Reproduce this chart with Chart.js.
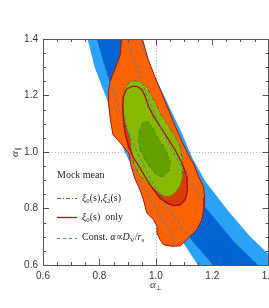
<!DOCTYPE html>
<html><head><meta charset="utf-8">
<script src="https://cdn.jsdelivr.net/npm/chart.js@4"></script>
<style>
html,body{margin:0;padding:0;overflow:hidden;background:#fff;width:269px;height:308px}
#wrap{position:absolute;left:0;top:0;width:300px;height:308px}
</style>
</head><body><div id="wrap"><canvas id="c" width="300" height="308"></canvas></div>
<script>
// ---- axis ticks ----
const xTicks = [0.6, 0.8, 1.0, 1.2, 1.4];
const yTicks = [0.6, 0.8, 1.0, 1.2, 1.4];

// ---- constant-alpha band, 2 sigma (light blue) ----
const bandOuterX = [0.750,0.758,0.783,0.827,0.851,0.890,0.941,0.998,1.067,1.097,1.149,1.165,1.450,1.450,1.406,1.334,1.253,1.176,1.129,1.092,1.030,0.981,0.943,0.935];
const bandOuterY = [1.430,1.400,1.300,1.185,1.100,1.000,0.900,0.800,0.700,0.679,0.600,0.580,0.580,0.594,0.632,0.701,0.796,0.896,0.980,1.067,1.197,1.300,1.400,1.430];
// ---- constant-alpha band, 1 sigma (dark blue) ----
const bandInnerX = [0.783,0.791,0.819,0.852,0.890,0.933,0.984,1.043,1.116,1.203,1.215,1.385,1.362,1.279,1.179,1.111,1.054,1.005,0.963,0.925,0.891,0.883];
const bandInnerY = [1.430,1.400,1.300,1.200,1.100,1.000,0.900,0.800,0.700,0.600,0.580,0.580,0.600,0.680,0.800,0.900,1.000,1.100,1.200,1.300,1.400,1.430];

// ---- xi0 only, 2 sigma (orange) ----
const xi0OuterX = [0.881,0.944,0.973,0.998,1.033,1.062,1.092,1.107,1.121,1.133,1.151,1.169,1.173,1.171,1.163,1.145,1.121,1.104,1.086,1.057,1.027,1.015,1.004,1.004,0.992,0.968,0.956,0.944,0.926,0.912,0.905,0.876,0.848,0.838,0.832,0.832,0.838,0.856,0.874];
const xi0OuterY = [1.430,1.430,1.327,1.263,1.179,1.107,1.038,1.008,0.979,0.961,0.914,0.878,0.838,0.807,0.760,0.725,0.701,0.684,0.668,0.666,0.672,0.690,0.713,0.737,0.760,0.784,0.831,0.865,0.905,0.950,0.995,1.030,1.061,1.120,1.179,1.215,1.250,1.297,1.344];
// ---- xi0 only, 1 sigma (dark orange, red contour) ----
const xi0InnerX = [0.915,0.933,0.950,0.962,0.974,0.992,1.015,1.045,1.068,1.092,1.110,1.112,1.104,1.086,1.062,1.039,1.015,0.992,0.968,0.944,0.921,0.903,0.891,0.885,0.883,0.885,0.897];
const xi0InnerY = [1.232,1.232,1.221,1.197,1.161,1.126,1.091,1.044,1.008,0.961,0.914,0.867,0.831,0.813,0.810,0.820,0.837,0.867,0.902,0.943,0.979,1.020,1.067,1.114,1.161,1.197,1.223];
// ---- xi0 + xi2, 2 sigma (light green) ----
const xi02OuterX = [0.921,0.944,0.968,0.992,1.015,1.045,1.068,1.086,1.092,1.096,1.092,1.074,1.051,1.027,1.004,0.968,0.938,0.921,0.915,0.909,0.895,0.885,0.883,0.891,0.903];
const xi02OuterY = [1.252,1.250,1.227,1.185,1.138,1.091,1.055,1.020,0.984,0.937,0.896,0.861,0.843,0.843,0.861,0.890,0.926,0.961,0.997,1.044,1.091,1.138,1.185,1.221,1.244];
// ---- xi0 + xi2, 1 sigma (dark green) ----
const xi02InnerX = [0.968,0.986,1.004,1.027,1.045,1.051,1.045,1.027,1.009,0.986,0.962,0.944,0.938,0.944,0.956];
const xi02InnerY = [1.108,1.091,1.055,1.020,0.984,0.961,0.931,0.914,0.914,0.937,0.973,1.008,1.044,1.085,1.105];

// ---- constant-alpha contours (dashed) ----
const constA1X = [0.902,0.941,0.998,1.057,1.062];
const constA1Y = [0.980,0.900,0.800,0.713,0.668];
const constA2X = [0.818,0.852,0.890,0.933,0.984,1.043,1.116,1.122];
const constA2Y = [1.310,1.200,1.100,1.000,0.900,0.800,0.700,0.695];
const constA3X = [0.889,0.896,0.932,0.968,1.011,1.061,1.118,1.171];
const constA3Y = [1.430,1.400,1.300,1.200,1.100,1.000,0.900,0.820];
const constA4X = [0.935,0.945,0.968];
const constA4Y = [1.430,1.400,1.330];

const legendLabels = ['Mock mean', 'ξ0(s),ξ2(s)', 'ξ0(s) only', 'Const. α∝DV/rs'];

const COL = {
  lightBlue:'#2aa2f8', darkBlue:'#0064d2', orange:'#fa6400', darkOrange:'#dc3a00',
  lightGreen:'#88b800', darkGreen:'#64a000', red:'#a8140c', green:'#3f8200', dash:'#4a7ad4'
};

function pts(xs, ys, close) {
  const p = xs.map((x, i) => ({x: x, y: ys[i]}));
  if (close) p.push({x: xs[0], y: ys[0]});
  return p;
}
function poly(xs, ys, bg, border, width, dash, order) {
  return {data: pts(xs, ys, true), showLine: true, fill: 'shape', backgroundColor: bg,
    borderColor: border || bg, borderWidth: width || 0, borderDash: dash || [],
    pointRadius: 0, tension: 0, order: order};
}
function curve(xs, ys, color, width, dash, order) {
  return {data: pts(xs, ys, false), showLine: true, fill: false, backgroundColor: color,
    borderColor: color, borderWidth: width, borderDash: dash || [], pointRadius: 0, tension: 0, order: order};
}

const datasets = [
  poly(bandOuterX, bandOuterY, COL.lightBlue, null, 0, null, 20),
  poly(bandInnerX, bandInnerY, COL.darkBlue, null, 0, null, 19),
  poly(xi0OuterX, xi0OuterY, COL.orange, COL.red, 1, null, 18),
  poly(xi0InnerX, xi0InnerY, COL.darkOrange, COL.red, 1.2, null, 17),
  poly(xi02OuterX, xi02OuterY, COL.lightGreen, COL.green, 1, [4,2,1,2], 16),
  poly(xi02InnerX, xi02InnerY, COL.darkGreen, COL.green, 1, [4,2,1,2], 15),
  curve(xi0InnerX.concat([xi0InnerX[0]]), xi0InnerY.concat([xi0InnerY[0]]), COL.red, 1.3, null, 14),
  curve(constA1X, constA1Y, COL.dash, 1, [3,3], 13),
  curve(constA2X, constA2Y, COL.dash, 1, [3,3], 12),
  curve(constA3X, constA3Y, COL.dash, 1, [3,3], 11),
  curve(constA4X, constA4Y, COL.dash, 1, [3,3], 10)
];

function rich(ctx, parts, x, y, size) {
  let cx = x;
  for (const p of parts) {
    const fs = p.sub ? size * 0.68 : size;
    ctx.font = (p.it ? 'italic ' : '') + fs + 'px "Liberation Serif", serif';
    ctx.fillText(p.t, cx, y + (p.sub ? size * 0.28 : 0));
    cx += ctx.measureText(p.t).width;
  }
  return cx - x;
}

const deco = {
  id: 'deco',
  beforeDatasetsDraw(chart) {
    const {ctx, chartArea: a, scales: {x, y}} = chart;
    ctx.save();
    ctx.strokeStyle = '#b0b0b0'; ctx.lineWidth = 1; ctx.setLineDash([1, 2]);
    ctx.beginPath();
    const px = Math.round(x.getPixelForValue(1.0)) + 0.5;
    const py = Math.round(y.getPixelForValue(1.0)) + 0.5;
    ctx.moveTo(px, a.top); ctx.lineTo(px, a.bottom);
    ctx.moveTo(a.left, py); ctx.lineTo(a.right, py);
    ctx.stroke();
    ctx.restore();
  },
  afterDatasetsDraw(chart) {
    const {ctx, chartArea: a, scales: {x, y}} = chart;
    ctx.save();
    // ticks
    ctx.strokeStyle = '#555'; ctx.lineWidth = 1; ctx.setLineDash([]);
    ctx.beginPath();
    for (let i = 0; i <= 16; i++) {
      const v = 0.6 + i * 0.05;
      const len = (i % 4 === 0) ? 6 : 3;
      const px = Math.round(x.getPixelForValue(v)) + 0.5;
      const py = Math.round(y.getPixelForValue(v)) + 0.5;
      ctx.moveTo(px, a.bottom); ctx.lineTo(px, a.bottom - len);
      ctx.moveTo(px, a.top); ctx.lineTo(px, a.top + len);
      ctx.moveTo(a.left, py); ctx.lineTo(a.left + len, py);
      ctx.moveTo(a.right, py); ctx.lineTo(a.right - len, py);
    }
    ctx.stroke();
    ctx.strokeStyle = '#555';
    ctx.strokeRect(Math.round(a.left) + 0.5, Math.round(a.top) + 0.5, Math.round(a.right - a.left) - 1, Math.round(a.bottom - a.top));
    // legend
    const lx = a.left + 14, tx = a.left + 39, size = 10;
    ctx.fillStyle = '#222'; ctx.textBaseline = 'middle'; ctx.textAlign = 'left';
    rich(ctx, [{t: legendLabels[0]}], lx, 175, size);
    const rows = [
      {y: 198, color: COL.green, dash: [4,2,1,2], w: 1,
       parts: [{t:'ξ', it:1},{t:'0', sub:1},{t:'(s),'},{t:'ξ', it:1},{t:'2', sub:1},{t:'(s)'}]},
      {y: 217, color: COL.red, dash: [], w: 1.3,
       parts: [{t:'ξ', it:1},{t:'0', sub:1},{t:'(s)  only'}]},
      {y: 237.5, color: COL.dash, dash: [3,3], w: 1,
       parts: [{t:'Const. '},{t:'α', it:1},{t:'∝'},{t:'D', it:1},{t:'V', sub:1},{t:'/'},{t:'r', it:1},{t:'s', sub:1}]}
    ];
    for (const r of rows) {
      ctx.strokeStyle = r.color; ctx.lineWidth = r.w; ctx.setLineDash(r.dash);
      ctx.beginPath(); ctx.moveTo(lx, Math.round(r.y) + 0.5); ctx.lineTo(lx + 20, Math.round(r.y) + 0.5); ctx.stroke();
      ctx.setLineDash([]);
      rich(ctx, r.parts, tx, r.y, size);
    }
    // axis titles
    ctx.fillStyle = '#333';
    const cxT = (a.left + a.right) / 2;
    ctx.font = 'italic 11px "Liberation Serif", serif';
    const w1 = ctx.measureText('α').width;
    ctx.font = '7px "DejaVu Sans", sans-serif';
    const w2 = ctx.measureText('⊥').width;
    const sx = cxT - (w1 + w2) / 2;
    rich(ctx, [{t:'α', it:1}], sx, 285, 11);
    ctx.font = '7px "DejaVu Sans", sans-serif';
    ctx.fillText('⊥', sx + w1, 288);
    ctx.translate(15, (a.top + a.bottom) / 2);
    ctx.rotate(-Math.PI / 2);
    ctx.font = 'italic 11px "Liberation Serif", serif';
    ctx.fillText('α', -5, 0);
    ctx.font = '7px "DejaVu Sans", sans-serif';
    ctx.fillText('∥', 1, 3);
    ctx.restore();
  }
};

new Chart(document.getElementById('c'), {
  type: 'scatter',
  data: {datasets: datasets},
  options: {
    responsive: false, animation: false, devicePixelRatio: 1,
    layout: {padding: {left: 0, top: 39, right: 31.3, bottom: 0}},
    plugins: {legend: {display: false}, tooltip: {enabled: false}},
    scales: {
      x: {type: 'linear', min: 0.6, max: 1.4,
          afterBuildTicks: s => { s.ticks = xTicks.map(v => ({value: v})); },
          ticks: {callback: v => v.toFixed(1), color: '#333', padding: 5, maxRotation: 0,
                  font: {family: '"Liberation Sans", sans-serif', size: 10}},
          grid: {display: false, drawTicks: false}, border: {display: false},
          afterFit: s => { s.height = 43; }},
      y: {type: 'linear', min: 0.6, max: 1.4,
          afterBuildTicks: s => { s.ticks = yTicks.map(v => ({value: v})); },
          ticks: {callback: v => v.toFixed(1), color: '#333', padding: 5,
                  font: {family: '"Liberation Sans", sans-serif', size: 10}},
          grid: {display: false, drawTicks: false}, border: {display: false},
          afterFit: s => { s.width = 43; }}
    }
  },
  plugins: [deco]
});
</script></body></html>
